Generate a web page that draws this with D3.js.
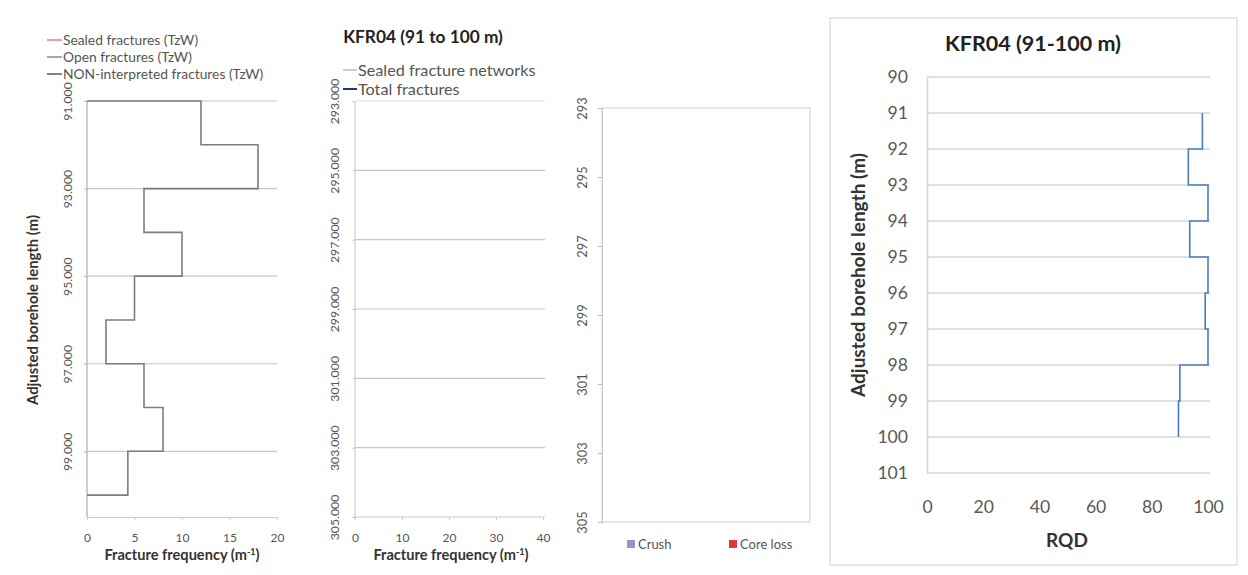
<!DOCTYPE html>
<html><head><meta charset="utf-8">
<script src="https://cdn.jsdelivr.net/npm/d3@7"></script>
<style>
body{margin:0;background:#fff;}
svg{display:block;font-family:Lato,"Open Sans",sans-serif;}
</style></head><body>
<svg id="c" width="1248" height="575"></svg>
<script>
// ---------- data ----------
const p1Edges = [91,92,93,94,95,96,97,98,99,100];
const p1Freq = [12,18,6,10,5,2,6,8,4.3];
const p1YTicks = [91,93,95,97,99];
const p1XTicks = [0,5,10,15,20];
const p1Legend = ["Sealed fractures (TzW)","Open fractures (TzW)","NON-interpreted fractures (TzW)"];
const p1LegendColors = ["#d9828f","#8a8a8a","#5a5a5a"];

const p2Title = "KFR04 (91 to 100 m)";
const p2YTicks = [293,295,297,299,301,303,305];
const p2XTicks = [0,10,20,30,40];
const p2Legend = ["Sealed fracture networks","Total fractures"];
const p2LegendColors = ["#b0b0b0","#27346e"];

const p3YTicks = [293,295,297,299,301,303,305];
const p3Legend = ["Crush","Core loss"];
const p3LegendColors = ["#a08cc8","#e0363d"];

const rqdTitle = "KFR04 (91-100 m)";
const rqdEdges = [91,92,93,94,95,96,97,98,99,100];
const rqdValues = [98,93,100,93.5,100,99,100,90,89.5];
const rqdYTicks = [90,91,92,93,94,95,96,97,98,99,100,101];
const rqdXTicks = [0,20,40,60,80,100];

const svg = d3.select("#c");
svg.append("rect").attr("width",1248).attr("height",575).attr("fill","#fff");

function stepPoints(edges, vals, closeZero){
  const pts = [];
  if (closeZero) pts.push([0, edges[0]]);
  vals.forEach((v,i)=>{ pts.push([v, edges[i]]); pts.push([v, edges[i+1]]); });
  if (closeZero) pts.push([0, edges[edges.length-1]]);
  return pts;
}
function freqTitle(g, x, y){
  const t = g.append("text").attr("x",x).attr("y",y).attr("text-anchor","middle")
    .attr("font-size",14.6).attr("font-weight","bold").attr("fill","#333");
  t.append("tspan").text("Fracture frequency (m");
  t.append("tspan").attr("font-size",9).attr("dy",-5).text("-1");
  t.append("tspan").attr("dy",5).text(")");
}

// ---------- Panel 1 ----------
{
  const x = d3.scaleLinear().domain([0,20]).range([87,277]);
  const y = d3.scaleLinear().domain([91,100.5]).range([101,517]);
  const g = svg.append("g");
  g.append("g").selectAll("line").data(p1YTicks).join("line")
    .attr("x1",x(0)).attr("x2",x(20)).attr("y1",d=>y(d)).attr("y2",d=>y(d))
    .attr("stroke","#c6c6c6").attr("stroke-width",1.2);
  const ya = g.append("g").attr("transform",`translate(${x(0)},0)`)
    .call(d3.axisLeft(y).tickValues(p1YTicks).tickSize(3).tickFormat(d3.format(".3f")));
  ya.select(".domain").attr("stroke","#aaa").attr("stroke-width",1.2).attr("d",`M-0,${y(91)}V${y(100.5)}`);
  ya.selectAll(".tick line").attr("stroke","#bbb");
  ya.selectAll("text").attr("transform","rotate(-90)").attr("x",0).attr("y",-15).attr("dy",0)
    .attr("text-anchor","middle").attr("font-size",12.3).attr("fill","#555").attr("font-family","Lato,sans-serif");
  const xa = g.append("g").attr("transform",`translate(0,${y(100.5)})`)
    .call(d3.axisBottom(x).tickValues(p1XTicks).tickSize(3));
  xa.select(".domain").attr("stroke","#ccc").attr("stroke-width",1.2);
  xa.selectAll(".tick line").attr("stroke","#ccc");
  xa.selectAll("text").attr("y",25).attr("dy",0).attr("font-size",12).attr("fill","#555").attr("font-family","Lato,sans-serif");
  g.append("path").datum(stepPoints(p1Edges,p1Freq,true))
    .attr("d",d3.line().x(d=>x(d[0])).y(d=>y(d[1])))
    .attr("fill","none").attr("stroke","#7d7d7d").attr("stroke-width",1.6);
  freqTitle(g, 182, 560);
  g.append("text").attr("transform","translate(38,310) rotate(-90)").attr("text-anchor","middle")
    .attr("font-size",14.8).attr("font-weight","bold").attr("fill","#333").text("Adjusted borehole length (m)");
  const lg = g.append("g").selectAll("g").data(p1Legend).join("g")
    .attr("transform",(d,i)=>`translate(47,${40+i*17})`);
  lg.append("line").attr("x1",0).attr("x2",15).attr("stroke",(d,i)=>p1LegendColors[i]).attr("stroke-width",1.5);
  lg.append("text").attr("x",16).attr("y",4.5).attr("font-size",13.8).attr("fill","#555").text(d=>d);
}

// ---------- Panel 2 ----------
{
  const x = d3.scaleLinear().domain([0,40]).range([355,543]);
  const y = d3.scaleLinear().domain([293,305]).range([101,517]);
  const g = svg.append("g");
  g.append("text").attr("x",423).attr("y",43).attr("text-anchor","middle")
    .attr("font-size",17.3).attr("font-weight","bold").attr("fill","#222").text(p2Title);
  g.append("g").selectAll("line").data(p2YTicks.slice(0,-1)).join("line")
    .attr("x1",x(0)).attr("x2",545).attr("y1",d=>y(d)).attr("y2",d=>y(d))
    .attr("stroke",(d,i)=>i===0?"#e0e0e0":"#c6c6c6").attr("stroke-width",1.2);
  const ya = g.append("g").attr("transform",`translate(${x(0)},0)`)
    .call(d3.axisLeft(y).tickValues(p2YTicks).tickSize(3).tickFormat(d3.format(".3f")));
  ya.select(".domain").attr("stroke","#ccc").attr("stroke-width",1.2).attr("d",`M-0,${y(293)}V${y(305)}`);
  ya.selectAll(".tick line").attr("stroke","#ccc");
  ya.selectAll("text").attr("transform","rotate(-90)").attr("x",0).attr("y",-16).attr("dy",0)
    .attr("text-anchor","middle").attr("font-size",12.3).attr("fill","#555").attr("font-family","Lato,sans-serif");
  const xa = g.append("g").attr("transform",`translate(0,${y(305)})`)
    .call(d3.axisBottom(x).tickValues(p2XTicks).tickSize(3));
  xa.select(".domain").attr("stroke","#ccc").attr("stroke-width",1.2).attr("d",`M${x(0)},0H545`);
  xa.selectAll(".tick line").attr("stroke","#ccc");
  xa.selectAll("text").attr("y",25).attr("dy",0).attr("font-size",12).attr("fill","#555").attr("font-family","Lato,sans-serif");
  freqTitle(g, 451, 560);
  const lg = g.append("g").selectAll("g").data(p2Legend).join("g")
    .attr("transform",(d,i)=>`translate(343,${70+i*19})`);
  lg.append("line").attr("x1",0).attr("x2",14).attr("stroke",(d,i)=>p2LegendColors[i]).attr("stroke-width",(d,i)=>i?2:1.3);
  lg.append("text").attr("x",15).attr("y",5.5).attr("font-size",16.2).attr("fill","#555").text(d=>d);
}

// ---------- Panel 3 ----------
{
  const y = d3.scaleLinear().domain([293,305]).range([108,522]);
  const g = svg.append("g");
  g.append("rect").attr("x",602).attr("y",y(293)).attr("width",208).attr("height",y(305)-y(293))
    .attr("fill","none").attr("stroke","#d8d8d8").attr("stroke-width",1.2);
  const ya = g.append("g").attr("transform","translate(602,0)")
    .call(d3.axisLeft(y).tickValues(p3YTicks).tickSize(4));
  ya.select(".domain").attr("stroke","#ccc");
  ya.selectAll(".tick line").attr("stroke","#bbb");
  ya.selectAll("text").attr("transform","rotate(-90)").attr("x",0).attr("y",-15).attr("dy",0)
    .attr("text-anchor","middle").attr("font-size",12.8).attr("fill","#555").attr("font-family","Lato,sans-serif");
  const lg = g.append("g").selectAll("g").data(p3Legend).join("g")
    .attr("transform",(d,i)=>`translate(${627+i*102},540)`);
  lg.append("rect").attr("width",8).attr("height",8).attr("fill",(d,i)=>p3LegendColors[i]);
  lg.append("text").attr("x",11).attr("y",8.5).attr("font-size",13).attr("fill","#555").text(d=>d);
}

// ---------- Panel 4 ----------
{
  const x = d3.scaleLinear().domain([0,100]).range([927,1208]);
  const y = d3.scaleLinear().domain([90,101]).range([77,473]);
  const g = svg.append("g");
  g.append("rect").attr("x",830).attr("y",18).attr("width",407).attr("height",547)
    .attr("fill","#fff").attr("stroke","#d9d9d9").attr("stroke-width",1.2);
  g.append("text").attr("x",1033).attr("y",51).attr("text-anchor","middle")
    .attr("font-size",21.5).attr("font-weight","bold").attr("fill","#222").text(rqdTitle);
  g.append("g").selectAll("line").data(rqdYTicks).join("line")
    .attr("x1",x(0)).attr("x2",1210).attr("y1",d=>y(d)).attr("y2",d=>y(d))
    .attr("stroke","#d6d6d6").attr("stroke-width",1.6);
  const ya = g.append("g").attr("transform",`translate(${x(0)},0)`)
    .call(d3.axisLeft(y).tickValues(rqdYTicks).tickSize(0).tickPadding(19).tickFormat(d3.format("d")));
  ya.select(".domain").attr("stroke","#d6d6d6").attr("stroke-width",1.6);
  ya.selectAll("text").attr("font-size",17.6).attr("fill","#595959").attr("font-family","Lato,sans-serif");
  const xa = g.append("g").attr("transform",`translate(0,${y(101)})`)
    .call(d3.axisBottom(x).tickValues(rqdXTicks).tickSize(0));
  xa.select(".domain").remove();
  xa.selectAll("text").attr("y",40).attr("dy",0).attr("font-size",17.6).attr("fill","#595959").attr("font-family","Lato,sans-serif");
  g.append("path").datum(stepPoints(rqdEdges,rqdValues,false))
    .attr("d",d3.line().x(d=>x(d[0])).y(d=>y(d[1])))
    .attr("fill","none").attr("stroke","#4a7ebb").attr("stroke-width",1.6);
  g.append("text").attr("x",1067).attr("y",547).attr("text-anchor","middle")
    .attr("font-size",19).attr("font-weight","bold").attr("fill","#333").text("RQD");
  g.append("text").attr("transform","translate(865,275) rotate(-90)").attr("text-anchor","middle")
    .attr("font-size",19).attr("font-weight","bold").attr("fill","#333").text("Adjusted borehole length (m)");
}
</script>
</body></html>
